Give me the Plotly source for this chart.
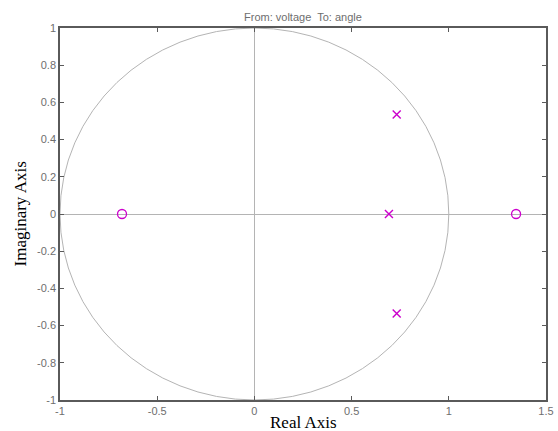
import plotly.graph_objects as go

# Pole and zero locations (real, imaginary)
pole_re = [0.732, 0.692, 0.732]
pole_im = [0.535, 0.0, -0.535]
zero_re = [-0.681, 1.346]
zero_im = [0.0, 0.0]

x_ticks = [-1, -0.5, 0, 0.5, 1, 1.5]
x_tick_text = ["-1", "-0.5", "0", "0.5", "1", "1.5"]
y_ticks = [-1, -0.8, -0.6, -0.4, -0.2, 0, 0.2, 0.4, 0.6, 0.8, 1]
y_tick_text = ["-1", "-0.8", "-0.6", "-0.4", "-0.2", "0", "0.2", "0.4", "0.6", "0.8", "1"]

MARK = "#cc00cc"
AXIS = "#5a5a5a"
GRID = "#b4b4b4"
TICKF = dict(family="Liberation Sans, Arial", size=11, color="#6e6e6e")
SERIF = "Liberation Serif, Times New Roman"

fig = go.Figure()

fig.add_trace(go.Scatter(
    x=zero_re, y=zero_im, mode="markers",
    marker=dict(symbol="circle-open", size=9, color=MARK, line=dict(width=1.3, color=MARK)),
    showlegend=False, hoverinfo="x+y"))
fig.add_trace(go.Scatter(
    x=pole_re, y=pole_im, mode="markers",
    marker=dict(symbol="x-thin-open", size=8, color=MARK, line=dict(width=1.4, color=MARK)),
    showlegend=False, hoverinfo="x+y"))

# unit circle
fig.add_shape(type="circle", xref="x", yref="y", x0=-1, y0=-1, x1=1, y1=1,
              line=dict(color=GRID, width=1), layer="below")

axis_common = dict(showgrid=False, zeroline=True, zerolinecolor=GRID, zerolinewidth=1,
                   showline=True, linecolor=AXIS, linewidth=1.5, mirror="ticks",
                   ticks="inside", ticklen=4, tickcolor=AXIS, tickfont=TICKF,
                   automargin=False)

fig.update_layout(
    width=558, height=431,
    margin=dict(l=60, r=12, t=28, b=31),
    paper_bgcolor="white", plot_bgcolor="white",
    xaxis=dict(range=[-1, 1.5], tickvals=x_ticks, ticktext=x_tick_text, **axis_common),
    yaxis=dict(range=[-1, 1], tickvals=y_ticks, ticktext=y_tick_text, **axis_common),
    annotations=[
        # figure caption sitting above the page top
        dict(text="Figure 3. Zeros and Poles from the paper", xref="paper", yref="paper",
             x=0, xshift=3, y=1, yshift=25.5, xanchor="left", yanchor="bottom", showarrow=False,
             font=dict(family=SERIF, size=28, color="black")),
        dict(text="From: voltage  To: angle", xref="paper", yref="paper",
             x=0.5, y=1, yshift=3, xanchor="center", yanchor="bottom", showarrow=False,
             font=dict(family="Liberation Sans, Arial", size=11, color="#6e6e6e")),
        dict(text="Real Axis", xref="paper", yref="paper",
             x=0.5, y=0, yshift=-11, xanchor="center", yanchor="top", showarrow=False,
             font=dict(family=SERIF, size=17, color="black")),
        dict(text="Imaginary Axis", xref="paper", yref="paper", textangle=-90,
             x=0, xshift=-29, y=0.5, xanchor="right", yanchor="middle", showarrow=False,
             font=dict(family=SERIF, size=17, color="black")),
    ],
)

fig.write_html("out.html")
